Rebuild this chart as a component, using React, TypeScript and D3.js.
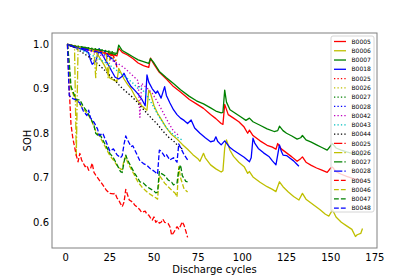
import React from "react";
import * as d3 from "d3";

type P = [number, number];

const B0005: P[] = [[1,1.0],[3,0.996],[6,0.993],[9,0.99],[12,0.988],[15,0.986],[18,0.984],[21,0.981],[24,0.979],[27,0.976],[29,0.974],[30,0.991],[32,0.982],[35,0.976],[38,0.968],[41,0.958],[44,0.952],[47,0.948],[48,0.969],[50,0.955],[53,0.937],[57,0.922],[61,0.905],[65,0.893],[70,0.876],[74,0.866],[78,0.856],[82,0.842],[85,0.833],[88,0.822],[89,0.82],[90,0.865],[92,0.842],[95,0.834],[98,0.826],[101,0.814],[103,0.8],[104,0.807],[106,0.795],[110,0.783],[114,0.773],[117,0.769],[119,0.764],[120,0.777],[122,0.765],[125,0.756],[128,0.747],[131,0.737],[133,0.743],[134,0.747],[136,0.735],[139,0.728],[142,0.722],[145,0.717],[148,0.712],[150,0.722],[151,0.724],[153,0.714],[156,0.708],[159,0.703],[162,0.699],[165,0.696],[168,0.693]];
const B0006: P[] = [[1,1.0],[3,0.996],[6,0.993],[9,0.99],[12,0.988],[15,0.986],[17,0.983],[18,0.978],[20,0.965],[22,0.952],[24,0.935],[25,0.924],[27,0.92],[29,0.916],[30,0.946],[31,0.938],[33,0.922],[35,0.91],[37,0.9],[39,0.885],[41,0.872],[43,0.862],[45,0.855],[46,0.852],[47,0.897],[48,0.89],[50,0.862],[52,0.845],[54,0.832],[57,0.812],[60,0.797],[63,0.787],[66,0.775],[69,0.764],[72,0.752],[75,0.742],[76,0.737],[78,0.755],[79,0.745],[82,0.729],[85,0.72],[88,0.713],[89,0.716],[90,0.767],[91,0.785],[93,0.762],[95,0.748],[98,0.735],[101,0.725],[103,0.71],[104,0.714],[106,0.702],[110,0.69],[114,0.68],[117,0.674],[119,0.669],[121,0.691],[123,0.68],[126,0.668],[129,0.658],[132,0.65],[134,0.665],[136,0.652],[140,0.64],[144,0.628],[147,0.618],[149,0.614],[151,0.628],[153,0.612],[156,0.6],[159,0.592],[162,0.584],[164,0.568],[165,0.572],[167,0.575],[168,0.586]];
const B0007: P[] = [[1,1.0],[4,0.997],[7,0.995],[10,0.993],[14,0.99],[18,0.987],[22,0.985],[26,0.982],[29,0.979],[30,0.998],[32,0.986],[35,0.979],[38,0.972],[41,0.965],[44,0.961],[47,0.957],[48,0.968],[50,0.958],[53,0.939],[57,0.925],[61,0.912],[65,0.898],[70,0.883],[74,0.873],[78,0.866],[82,0.857],[85,0.85],[88,0.846],[89,0.847],[90,0.897],[91,0.87],[93,0.853],[96,0.845],[99,0.837],[102,0.829],[104,0.834],[106,0.826],[110,0.818],[114,0.81],[118,0.804],[120,0.806],[121,0.816],[123,0.806],[125,0.8],[128,0.794],[131,0.787],[133,0.79],[134,0.795],[136,0.785],[139,0.78],[142,0.774],[145,0.768],[148,0.762],[150,0.772],[151,0.777],[153,0.767],[156,0.762],[159,0.758],[162,0.755],[165,0.752],[168,0.75]];
const B0018: P[] = [[1,1.0],[3,0.996],[6,0.992],[9,0.989],[12,0.984],[13,0.981],[14,0.965],[15,0.955],[17,0.962],[18,0.975],[19,0.99],[20,0.982],[22,0.968],[24,0.955],[26,0.94],[28,0.926],[30,0.922],[32,0.928],[33,0.935],[35,0.918],[37,0.905],[39,0.897],[41,0.888],[43,0.877],[45,0.862],[46,0.931],[47,0.915],[49,0.9],[51,0.89],[52,0.895],[54,0.879],[56,0.905],[57,0.885],[59,0.868],[61,0.853],[63,0.842],[65,0.834],[67,0.829],[69,0.822],[71,0.83],[73,0.812],[76,0.8],[79,0.79],[82,0.781],[84,0.783],[85,0.792],[86,0.782],[88,0.774],[90,0.783],[91,0.778],[93,0.768],[95,0.762],[98,0.754],[101,0.746],[104,0.736],[105,0.745],[106,0.789],[107,0.778],[109,0.766],[112,0.756],[115,0.748],[117,0.738],[119,0.729],[121,0.774],[122,0.76],[123,0.751],[125,0.75],[127,0.744],[129,0.738],[131,0.73],[132,0.726]];

const B0025: P[] = [[1,1.0],[4,0.997],[8,0.994],[12,0.991],[16,0.988],[20,0.985],[23,0.981],[25,0.977],[27,0.97],[28,0.958]];
const B0026: P[] = [[1,1.0],[4,0.998],[8,0.995],[12,0.992],[16,0.99],[20,0.986],[24,0.982],[28,0.978]];
const B0027: P[] = [[1,1.0],[5,0.997],[10,0.994],[15,0.991],[20,0.988],[24,0.985],[28,0.982]];
const B0028: P[] = [[1,1.0],[5,0.995],[10,0.99],[15,0.985],[20,0.98],[24,0.972],[28,0.962]];
const B0042: P[] = [[1,1.0],[5,0.996],[10,0.99],[15,0.983],[20,0.975],[25,0.966],[29,0.958],[33,0.948],[37,0.933],[40,0.922],[41,0.918],[42,0.836],[43,0.912],[46,0.902],[49,0.89],[52,0.87],[55,0.848],[58,0.825],[61,0.805],[64,0.795]];
const B0043: P[] = [[1,1.0],[5,0.993],[10,0.985],[14,0.977],[18,0.969],[22,0.96],[26,0.95],[30,0.938],[34,0.926],[38,0.913],[40,0.905],[41,0.9],[42,0.906],[44,0.895],[46,0.885],[49,0.865],[52,0.843],[55,0.824],[58,0.808],[61,0.797],[64,0.789],[66,0.785]];
const B0044: P[] = [[1,1.0],[4,0.995],[7,0.988],[10,0.98],[13,0.972],[16,0.963],[19,0.953],[22,0.942],[25,0.93],[28,0.918],[31,0.905],[34,0.894],[37,0.884],[40,0.872],[43,0.858],[46,0.845],[49,0.832],[52,0.82],[55,0.805],[58,0.792],[61,0.783],[64,0.77],[66,0.765]];

const B0029: P[] = [[1,1.0],[4,0.996],[8,0.992],[12,0.989],[16,0.986],[20,0.983],[24,0.978],[27,0.974],[28,0.965],[29,0.948]];
const B0030: P[] = [[1,1.0],[3,0.998],[5,0.996],[6,0.75],[7,0.994],[10,0.991],[13,0.989],[16,0.986],[17,0.925],[18,0.984],[21,0.98],[23,0.976],[24,0.925],[25,0.972],[27,0.968],[29,0.963]];
const B0031: P[] = [[1,1.0],[5,0.996],[10,0.993],[15,0.99],[20,0.987],[25,0.98],[29,0.976]];
const B0032: P[] = [[1,1.0],[5,0.994],[10,0.99],[15,0.986],[20,0.981],[22,0.984],[24,0.975],[27,0.965],[29,0.953]];

const B0045: P[] = [[1,1.0],[2,0.9],[3,0.82],[4,0.79],[5,0.77],[6,0.75],[7,0.736],[8,0.755],[9,0.74],[11,0.725],[12,0.728],[13,0.717],[14,0.72],[15,0.733],[16,0.712],[17,0.706],[19,0.695],[21,0.684],[23,0.672],[25,0.665],[27,0.664],[28,0.665],[29,0.655],[30,0.65],[31,0.642],[32,0.635],[33,0.645],[34,0.674],[35,0.662],[36,0.65],[38,0.645],[39,0.639],[41,0.632],[42,0.628],[43,0.622],[45,0.625],[46,0.618],[47,0.616],[48,0.61],[49,0.605],[50,0.612],[51,0.6],[52,0.604],[53,0.598],[54,0.6],[55,0.607],[56,0.6],[58,0.597],[59,0.59],[60,0.571],[61,0.576],[62,0.583],[63,0.59],[64,0.585],[65,0.592],[66,0.601],[67,0.593],[68,0.58],[69,0.566]];
const B0046: P[] = [[1,1.0],[2,0.94],[3,0.9],[5,0.88],[7,0.87],[9,0.86],[11,0.85],[13,0.84],[15,0.825],[17,0.805],[19,0.795],[21,0.78],[23,0.765],[25,0.75],[27,0.74],[29,0.728],[31,0.72],[32,0.718],[33,0.74],[34,0.748],[35,0.735],[37,0.72],[39,0.705],[41,0.69],[43,0.68],[45,0.672],[47,0.665],[49,0.66],[51,0.655],[52,0.652],[53,0.705],[54,0.7],[56,0.688],[58,0.68],[60,0.672],[62,0.665],[63,0.657],[64,0.725],[65,0.7],[67,0.675],[69,0.668]];
const B0047: P[] = [[1,1.0],[2,0.96],[3,0.905],[5,0.885],[6,0.875],[8,0.875],[10,0.86],[12,0.849],[14,0.835],[16,0.818],[17,0.8],[18,0.796],[19,0.8],[21,0.785],[23,0.77],[25,0.755],[27,0.745],[29,0.73],[31,0.714],[32,0.712],[33,0.735],[34,0.751],[35,0.74],[37,0.725],[39,0.71],[41,0.698],[42,0.691],[44,0.688],[46,0.68],[48,0.675],[50,0.67],[51,0.666],[52,0.668],[53,0.714],[54,0.71],[56,0.705],[58,0.695],[60,0.69],[61,0.684],[63,0.688],[64,0.718],[65,0.729],[66,0.705],[68,0.692],[69,0.691]];
const B0048: P[] = [[1,1.0],[2,0.885],[4,0.878],[6,0.875],[8,0.868],[10,0.85],[12,0.84],[13,0.852],[14,0.835],[16,0.825],[18,0.81],[19,0.795],[21,0.8],[23,0.78],[25,0.76],[27,0.765],[29,0.752],[31,0.745],[32,0.75],[33,0.775],[34,0.794],[35,0.785],[37,0.77],[38,0.772],[40,0.755],[42,0.738],[44,0.732],[46,0.728],[48,0.72],[50,0.715],[52,0.708],[53,0.762],[54,0.76],[56,0.748],[57,0.752],[59,0.74],[61,0.745],[63,0.735],[64,0.776],[65,0.768],[67,0.752],[69,0.74]];

const labels = ["B0005","B0006","B0007","B0018","B0025","B0026","B0027","B0028","B0042","B0043","B0044","B0025","B0026","B0027","B0028","B0045","B0046","B0047","B0048"];
const seriesData: P[][] = [B0005,B0006,B0007,B0018,B0025,B0026,B0027,B0028,B0042,B0043,B0044,B0029,B0030,B0031,B0032,B0045,B0046,B0047,B0048];
const colors = ["#ff0000","#bfbf00","#008000","#0000ff","#ff0000","#bfbf00","#008000","#0000ff","#bf00bf","#00bfbf","#000000","#ff0000","#bfbf00","#008000","#0000ff","#ff0000","#bfbf00","#008000","#0000ff"];
const styles = ["-","-","-","-",":",":",":",":",":",":",":","-.","-.","-.","-.","--","--","--","--"];
const xTicks = [0,25,50,75,100,125,150,175];
const yTicks = [0.6,0.7,0.8,0.9,1.0];

const LW = 1.3;
const dashFor = (s: string) => s === ":" ? `${1*LW} ${1.65*LW}` : s === "--" ? `${3.7*LW} ${1.6*LW}` : s === "-." ? `${6.4*LW} ${1.6*LW} ${1*LW} ${1.6*LW}` : undefined;

export default function App() {
  const X0 = 52, X1 = 377, Y0 = 33, Y1 = 248;
  const x = d3.scaleLinear().domain([-7.75, 176.2]).range([X0, X1]);
  const y = d3.scaleLinear().domain([0.5422, 1.0254]).range([Y1, Y0]);
  const line = d3.line<P>().x(d => x(d[0])).y(d => y(d[1]));
  const font = "DejaVu Sans, sans-serif";
  const lgX = 331, lgY = 36, lgW = 43, rowH = 9.26;
  const lgH = 176;
  return (
    <svg width={420} height={280} style={{ position: "absolute", left: 0, top: 0, background: "#fff" }} fontFamily={font}>
      <defs>
        <clipPath id="plot"><rect x={X0} y={Y0} width={X1 - X0} height={Y1 - Y0} /></clipPath>
      </defs>
      <g clipPath="url(#plot)">
        {seriesData.map((d, i) => (
          <path key={i} d={line(d) || ""} fill="none" stroke={colors[i]} strokeWidth={LW}
            strokeDasharray={dashFor(styles[i])} strokeLinejoin="round" />
        ))}
      </g>
      <rect x={X0} y={Y0} width={X1 - X0} height={Y1 - Y0} fill="none" stroke="#808080" strokeWidth={1} />
      {xTicks.map(t => (
        <text key={t} x={x(t)} y={Y1 + 12.5} fontSize={10} textAnchor="middle" fill="#000">{t}</text>
      ))}
      {yTicks.map(t => (
        <text key={t} x={X0 - 3} y={y(t) + 3.6} fontSize={10} textAnchor="end" fill="#000">{t.toFixed(1)}</text>
      ))}
      <text x={(X0 + X1) / 2} y={272.5} fontSize={10} textAnchor="middle">Discharge cycles</text>
      <text transform={`translate(31,${(Y0 + Y1) / 2}) rotate(-90)`} fontSize={10} textAnchor="middle">SOH</text>
      <rect x={lgX} y={lgY} width={lgW} height={lgH} rx={2} fill="#fff" fillOpacity={0.8} stroke="#cccccc" strokeWidth={0.8} />
      {labels.map((l, i) => {
        const cy = lgY + 5.5 + i * rowH;
        return (
          <g key={i}>
            <line x1={lgX + 3} x2={lgX + 15} y1={cy} y2={cy} stroke={colors[i]} strokeWidth={LW} strokeDasharray={dashFor(styles[i])} />
            <text x={lgX + 20.5} y={cy + 2.2} fontSize={6} fill="#000">{l}</text>
          </g>
        );
      })}
    </svg>
  );
}
